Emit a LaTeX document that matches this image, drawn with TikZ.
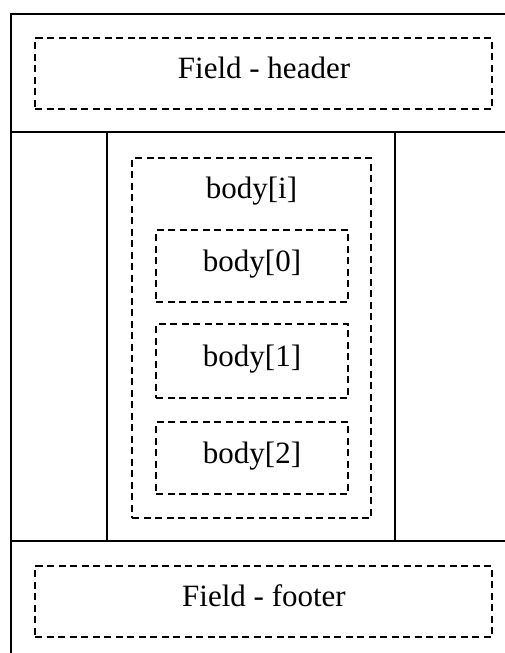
\documentclass[tikz,border=0pt]{standalone}
\usepackage{fontspec}
\setmainfont{Liberation Serif}
\begin{document}
\begin{tikzpicture}[x=1pt,y=-1pt,
  frame/.style={line width=1.5pt,line cap=rect},
  fieldbox/.style={draw,line width=1.3pt,dash pattern=on 7pt off 4.5pt,inner sep=0pt},
  label/.style={inner sep=0pt,anchor=base,font=\fontsize{31}{36}\selectfont}]
\useasboundingbox (0,0) rectangle (505,653);
% outer frame and section dividers
\draw[frame] (505,14) -- (11,14) -- (11,653);
\draw[frame] (11,132) -- (505,132);
\draw[frame] (11,541) -- (505,541);
\draw[frame] (107,132) -- (107,541);
\draw[frame] (395,132) -- (395,541);
% header and footer fields
\node[fieldbox,minimum width=457pt,minimum height=71pt] (header) at (263.5,73.5) {};
\node[label] (headerlabel) at (264,78) {Field - header};
\node[fieldbox,minimum width=457pt,minimum height=71pt] (footer) at (263.5,601.5) {};
\node[label] (footerlabel) at (264,606) {Field - footer};
% body container and its entries
\node[fieldbox,minimum width=239pt,minimum height=360pt] (bodyi) at (251.5,338) {};
\node[label] (bodyilabel) at (251.5,198) {body[i]};
\node[fieldbox,minimum width=192pt,minimum height=72pt] (body0) at (252,266) {};
\node[label] (body0label) at (252,271) {body[0]};
\node[fieldbox,minimum width=192pt,minimum height=74pt] (body1) at (252,361) {};
\node[label] (body1label) at (252,366) {body[1]};
\node[fieldbox,minimum width=192pt,minimum height=72pt] (body2) at (252,458) {};
\node[label] (body2label) at (252,463) {body[2]};
\end{tikzpicture}
\end{document}
